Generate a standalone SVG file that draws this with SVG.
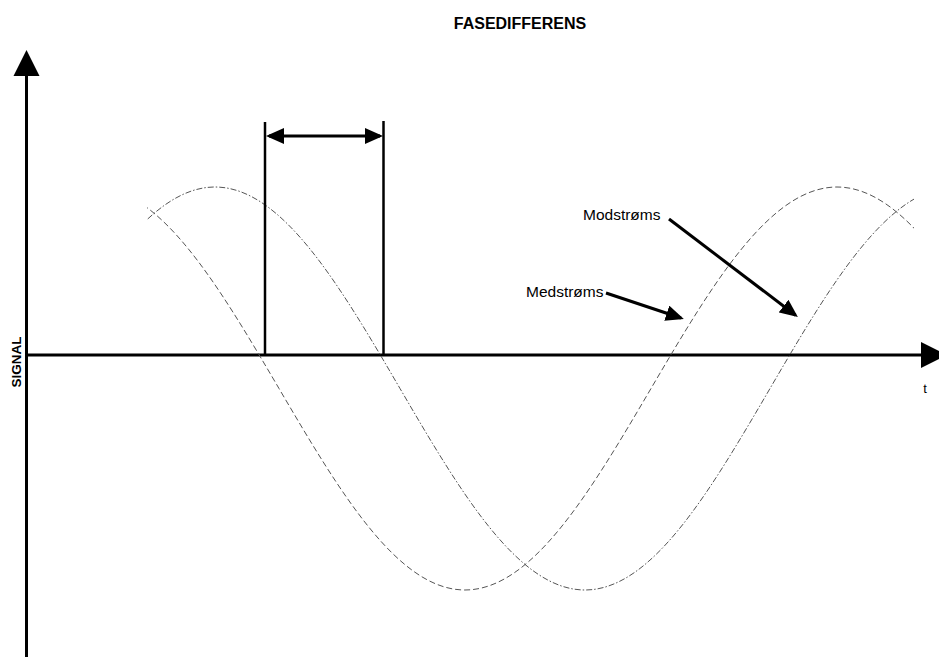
<svg xmlns="http://www.w3.org/2000/svg" width="939" height="657" viewBox="0 0 939 657">
<style>
.axis{stroke:#000;stroke-width:3;fill:none}
.mark{stroke:#000;stroke-width:2.5;fill:none}
.conn{stroke:#000;stroke-width:3;fill:none}
.head{fill:#000;stroke:none}
.waveA{stroke:#555;stroke-width:1;fill:none;stroke-dasharray:6 3}
.waveB{stroke:#555;stroke-width:1;fill:none;stroke-dasharray:6 2 1.5 2}
.lbl{font-family:"Liberation Sans",Arial,sans-serif;fill:#000}
.bold{font-weight:bold}
</style>
<defs>
<marker id="ah" viewBox="0 0 18 16" refX="15" refY="8" markerWidth="18" markerHeight="16" markerUnits="userSpaceOnUse" orient="auto-start-reverse">
<path d="M0,0 L18,8 L0,16 z" fill="#000"/>
</marker>
<clipPath id="wclip"><rect x="147" y="150" width="767" height="460"/></clipPath>
</defs>
<rect width="939" height="657" fill="#fff"/>
<g id="title"><text class="lbl bold" x="520" y="29" font-size="16" text-anchor="middle">FASEDIFFERENS</text></g>
<g id="axes">
<line class="axis" x1="26.5" y1="74" x2="26.5" y2="657"/>
<polygon class="head" points="26.5,50 39.5,76 13.5,76"/>
<line class="axis" x1="26" y1="355" x2="923" y2="355"/>
<polygon class="head" points="921,342 947,355 921,368"/>
</g>
<g id="signal-label"><text class="lbl bold" font-size="13.5" text-anchor="middle" transform="translate(21,362) rotate(-90)">SIGNAL</text></g>
<g id="t-label"><text class="lbl" x="925" y="393" font-size="13" text-anchor="middle">t</text></g>
<g id="waves" clip-path="url(#wclip)">
<path id="wave-medstroms" class="waveA" d="M93,187 C160.3,187 218.3,285.3 279,388.5 C339.66,491.7 397.7,590 465,590 C532.3,590 590.3,491.7 651,388.5 C711.66,285.3 769.7,187 837,187 C904.3,187 962.3,285.3 1023,388.5"/>
<path id="wave-modstroms" class="waveB" d="M30,388.5 C90.3,285.3 148,187 215,187 C282,187 339.7,285.3 400,388.5 C460.3,491.7 518,590 585,590 C652,590 709.7,491.7 770,388.5 C830.3,285.3 888,187 955,187"/>
</g>
<g id="phase-marks">
<line class="mark" x1="265" y1="122" x2="265" y2="355"/>
<line class="mark" x1="383.5" y1="121" x2="383.5" y2="355"/>
</g>
<g id="connectors">
<line class="conn" x1="269" y1="136" x2="380" y2="136" marker-start="url(#ah)" marker-end="url(#ah)"/>
<line class="conn" x1="669" y1="219" x2="795.5" y2="315.2" marker-end="url(#ah)"/>
<line class="conn" x1="606" y1="293" x2="681" y2="318" marker-end="url(#ah)"/>
</g>
<g id="label-modstroms"><text class="lbl" x="583" y="220" font-size="15.5">Modstrøms</text></g>
<g id="label-medstroms"><text class="lbl" x="526" y="297" font-size="15.5">Medstrøms</text></g>
</svg>
